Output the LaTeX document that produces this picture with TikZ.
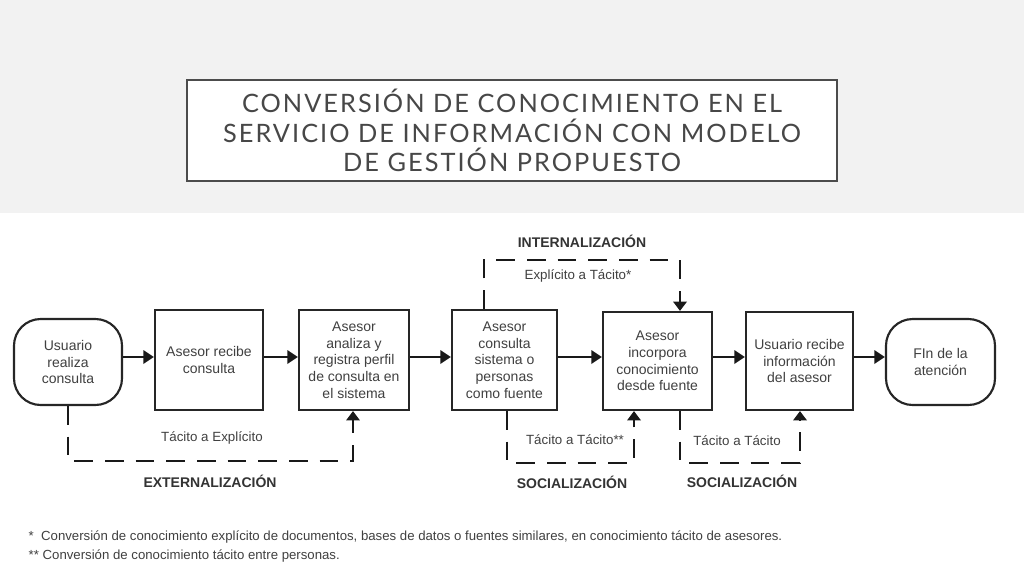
\documentclass[tikz,border=0pt]{standalone}
\usepackage{fontspec}
\setmainfont{Liberation Sans}
\newfontfamily\titlefont{Lato}
\usetikzlibrary{arrows.meta}
\begin{document}
\begin{tikzpicture}[x=0.75pt,y=-0.75pt,
  box/.style={draw=black!85,line width=1.6pt,fill=white,align=center,font=\fontsize{10.5}{12.5}\selectfont\color{black!75},inner sep=1pt},
  term/.style={box,rounded corners=20pt},
  flow/.style={line width=1.8pt,black!90,-{Triangle[length=8pt,width=10pt]}},
  dsh/.style={line width=2pt,black!90,dash pattern=on 14pt off 9pt,-{Triangle[length=7pt,width=10pt]}},
  lab/.style={font=\fontsize{10}{12}\selectfont\color{black!75}},
  foot/.style={font=\fontsize{9.9}{12}\selectfont\color{black!75}},
  bold/.style={font=\fontsize{10.5}{12}\selectfont\bfseries\color{black!80}}]
\useasboundingbox (0,0) rectangle (1024,576);
\fill[gray!10] (0,0) rectangle (1024,213);
\node[draw=black!70,line width=1.6pt,fill=white,minimum width=650*0.75pt,minimum height=101*0.75pt,align=center,
  font=\titlefont\fontsize{19}{22}\selectfont\color{black!72}] (title) at (512,130.5)
  {\addfontfeature{LetterSpace=8}CONVERSIÓN DE CONOCIMIENTO EN EL\\\addfontfeature{LetterSpace=8}SERVICIO DE INFORMACIÓN CON MODELO\\\addfontfeature{LetterSpace=8}DE GESTIÓN PROPUESTO};
\node[term,minimum width=108*0.75pt,minimum height=86*0.75pt] (u) at (68,362) {Usuario\\realiza\\consulta};
\node[box,minimum width=108*0.75pt,minimum height=100*0.75pt] (r) at (209,360) {Asesor recibe\\consulta};
\node[box,minimum width=110*0.75pt,minimum height=100*0.75pt] (a) at (354,360) {Asesor\\analiza y\\registra perfil\\de consulta en\\el sistema};
\node[box,minimum width=105*0.75pt,minimum height=100*0.75pt] (c) at (504.5,360) {Asesor\\consulta\\sistema o\\personas\\como fuente};
\node[box,minimum width=109*0.75pt,minimum height=98*0.75pt] (i) at (657.5,361) {Asesor\\incorpora\\conocimiento\\desde fuente};
\node[box,minimum width=107*0.75pt,minimum height=98*0.75pt] (ur) at (799.5,361) {Usuario recibe\\información\\del asesor};
\node[term,minimum width=109*0.75pt,minimum height=86*0.75pt] (f) at (940.5,362) {FIn de la\\atención};
\coordinate (ay) at (0,357);
\draw[flow] (u.east |- ay) -- (r.west |- ay);
\draw[flow] (r.east |- ay) -- (a.west |- ay);
\draw[flow] (a.east |- ay) -- (c.west |- ay);
\draw[flow] (c.east |- ay) -- (i.west |- ay);
\draw[flow] (i.east |- ay) -- (ur.west |- ay);
\draw[flow] (ur.east |- ay) -- (f.west |- ay);
\coordinate (e1) at (68,461); \coordinate (e2) at (353,461);
\draw[dsh] (u.south) -- (e1) -- (e2) -- (a.south -| e2);
\coordinate (n1) at (484,260); \coordinate (n2) at (680,260);
\draw[dsh] (c.north -| n1) -- (n1) -- (n2) -- (i.north -| n2);
\coordinate (s1) at (507,463); \coordinate (s2) at (634,463);
\draw[dsh] (c.south -| s1) -- (s1) -- (s2) -- (i.south -| s2);
\coordinate (t1) at (680,463); \coordinate (t2) at (800,463);
\draw[dsh] (i.south -| t1) -- (t1) -- (t2) -- (ur.south -| t2);
\node[lab] (l1) at (212,438) {Tácito a Explícito};
\node[bold] (b1) at (210,481) {EXTERNALIZACIÓN};
\node[bold] (b2) at (582,241) {INTERNALIZACIÓN};
\node[lab] (l2) at (578,276) {Explícito a Tácito*};
\node[lab] (l3) at (575,440) {Tácito a Tácito**};
\node[bold] (b3) at (572,482) {SOCIALIZACIÓN};
\node[lab] (l4) at (737,441) {Tácito a Tácito};
\node[bold] (b4) at (742,481) {SOCIALIZACIÓN};
\node[foot,anchor=west] (fn1) at (24,537) {*\ \ Conversión de conocimiento explícito de documentos, bases de datos o fuentes similares, en conocimiento tácito de asesores.};
\node[foot,anchor=west] (fn2) at (24,556) {** Conversión de conocimiento tácito entre personas.};
\end{tikzpicture}
\end{document}
